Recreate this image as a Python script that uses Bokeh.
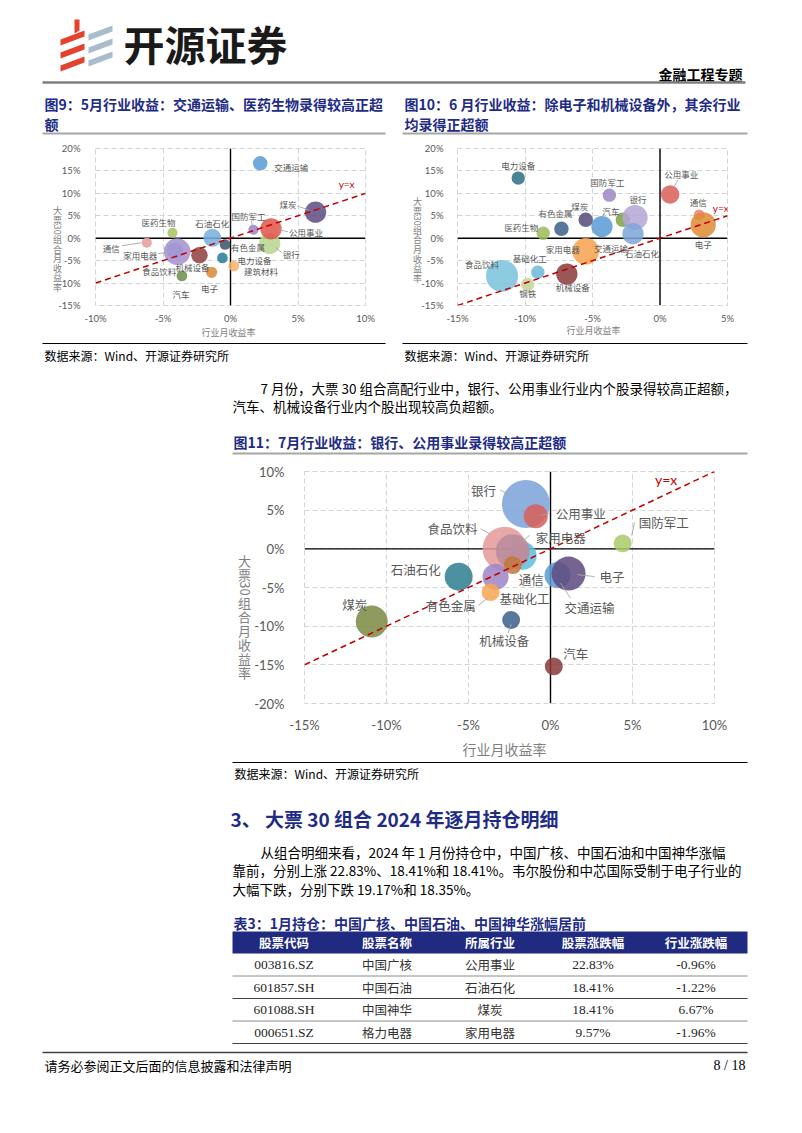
import math
from bokeh.plotting import figure
from bokeh.models import Range1d, FixedTicker, PrintfTickFormatter
from bokeh.layouts import column, row
from bokeh.core.properties import value
from bokeh.embed import file_html
from bokeh.resources import INLINE

CJK = "Noto Sans CJK SC"
LAT = "Lato"
SERIF = "Liberation Serif"
NAVY = "#1F2C85"
GRAYTXT = "#595959"

# ---------------- data ----------------
# Figure 9: May
may_industries = ["交通运输", "煤炭", "银行", "公用事业", "国防军工", "有色金属", "电力设备", "建筑材料",
                  "电子", "石油石化", "医药生物", "通信", "家用电器", "食品饮料", "机械设备", "汽车"]
may_industry_ret = [2.2, 6.3, 2.9, 3.0, 1.7, -0.4, -0.6, 0.25, -1.4, -1.35, -4.3, -6.2, -4.1, -3.95, -2.3, -3.6]
may_port_ret = [16.7, 5.8, -1.2, 2.1, 1.9, -1.4, -4.4, -6.2, -7.6, 0.1, 1.2, -1.0, -2.8, -3.0, -3.8, -8.4]
may_weight = [3.3, 7.1, 7.1, 7.1, 1.6, 1.8, 1.8, 1.8, 2.0, 5.1, 1.6, 1.6, 4.3, 11.1, 4.3, 1.8]
may_xticks = [-10, -5, 0, 5, 10]
may_yticks = [-15, -10, -5, 0, 5, 10, 15, 20]

# Figure 10: June
jun_industries = ["电力设备", "国防军工", "公用事业", "通信", "电子", "汽车", "银行", "石油石化", "煤炭",
                  "有色金属", "交通运输", "医药生物", "家用电器", "钢铁", "食品饮料", "基础化工", "机械设备"]
jun_industry_ret = [-10.5, -3.75, 0.75, 2.9, 3.2, -2.75, -1.85, -2.0, -5.5, -7.3, -4.3, -8.65, -5.5, -9.8, -11.7, -9.05, -6.9]
jun_port_ret = [13.4, 9.6, 9.75, 5.2, 3.0, 4.1, 4.6, 1.0, 4.1, 2.1, 2.6, 1.1, -2.9, -10.3, -8.4, -7.6, -8.0]
jun_weight = [2.8, 2.8, 5.4, 1.8, 10.0, 3.3, 10.0, 7.1, 3.3, 3.3, 7.1, 2.8, 11.1, 2.8, 16.0, 2.8, 7.1]
jun_xticks = [-15, -10, -5, 0, 5]
jun_yticks = [-15, -10, -5, 0, 5, 10, 15, 20]

# Figure 11: July
jul_industries = ["银行", "公用事业", "医药生物", "食品饮料", "家用电器", "通信", "基础化工", "有色金属",
                  "石油石化", "煤炭", "机械设备", "汽车", "交通运输", "电子", "国防军工"]
jul_industry_ret = [-1.5, -0.9, -1.7, -2.8, -2.3, -2.3, -3.35, -3.65, -5.6, -10.9, -2.4, 0.2, 0.43, 1.1, 4.4]
jul_port_ret = [5.8, 4.2, -0.9, 0.0, -0.3, -2.1, -3.6, -5.6, -3.6, -9.4, -9.2, -15.2, -3.4, -3.2, 0.7]
jul_weight = [23.0, 5.8, 7.8, 19.4, 11.6, 3.2, 6.8, 3.2, 7.8, 10.2, 3.2, 3.2, 6.8, 11.6, 3.2]
jul_xticks = [-15, -10, -5, 0, 5, 10]
jul_yticks = [-20, -15, -10, -5, 0, 5, 10]

# Table 3
tbl_headers = ["股票代码", "股票名称", "所属行业", "股票涨跌幅", "行业涨跌幅"]
tbl_codes = ["003816.SZ", "601857.SH", "601088.SH", "000651.SZ"]
tbl_names = ["中国广核", "中国石油", "中国神华", "格力电器"]
tbl_industries = ["公用事业", "石油石化", "煤炭", "家用电器"]
tbl_stock_ret = [22.83, 18.41, 18.41, 9.57]
tbl_industry_ret = [-0.96, -1.22, 6.67, -1.96]

# ---------------- styles ----------------
may_colors = ["#5B9BD5", "#5F4B80", "#B7D68E", "#E0554A", "#9A84C4", "#3B5470", "#2A7B96", "#F7B26B",
              "#D88A3A", "#79AEE0", "#A9C35F", "#E79C9C", "#8EB5E3", "#A592D0", "#923F3F", "#6E8E4D"]
jun_colors = ["#2E6F85", "#9D88C6", "#D9605A", "#E8837E", "#E08A35", "#7F9F45", "#B4A7D6", "#7EA6D8", "#564C7A",
              "#3E5F8A", "#5B9BD5", "#9BBB59", "#F7A350", "#C3D69B", "#79C3DD", "#6CB8D6", "#8B3A3A"]
jul_colors = ["#7BA3D8", "#D9605A", "#5BC0DE", "#E39A98", "#B88A9C", "#C0793A", "#9E85C6", "#F6A654",
              "#2F7F8F", "#7A8B45", "#3E5F8A", "#8B3A3A", "#5B9BD5", "#5E4B7F", "#A9CC6A"]

# label placement: px offset from bubble centre, alignment
may_labels = {"交通运输": (14, 4, "left"), "煤炭": (-19, -8, "right"), "银行": (13, 10, "left"),
              "公用事业": (18, 3, "left"), "国防军工": (-5, -14, "center"), "有色金属": (6, 3, "left"),
              "电力设备": (15, 2, "left"), "建筑材料": (10, 5, "left"), "电子": (-2, 16, "center"),
              "石油石化": (0, -15, "center"), "医药生物": (-14, -11, "center"), "通信": (-27, 5, "right"),
              "家用电器": (-18, 4, "right"), "食品饮料": (-18, 19, "center"), "机械设备": (-7, 12, "center"),
              "汽车": (-1, 18, "center")}
may_leaders = {"煤炭": ((-18, -6), (-6, -2)), "国防军工": ((-2, -9), (-1, -3)), "公用事业": ((17, 3), (8, 1)),
               "银行": ((12, 9), (6, 4)), "通信": ((-25, 3), (-5, 0)), "家用电器": ((-17, 3), (-5, 1))}
jun_labels = {"电力设备": (0, -13, "center"), "国防军工": (-2, -13, "center"), "公用事业": (-6, -20, "left"),
              "通信": (-1, -13, "center"), "电子": (0, 19, "center"), "石油石化": (9, 19, "center"),
              "银行": (3, -19, "center"), "汽车": (-12, -9, "center"), "煤炭": (-6, -14, "center"),
              "有色金属": (-6, -16, "center"), "交通运输": (9, 21, "center"), "医药生物": (-22, -6, "center"),
              "家用电器": (-23, -2, "center"), "钢铁": (0, 9, "center"), "食品饮料": (-20, -12, "center"),
              "基础化工": (-8, -14, "center"), "机械设备": (6, 13, "center")}
jun_leaders = {"公用事业": ((8, -15), (4, -8))}
jul_labels = {"银行": (-30, -13, "right"), "公用事业": (20, -3, "left"), "食品饮料": (-27, -20, "right"),
              "家用电器": (23, -14, "left"), "通信": (6, 14, "left"), "基础化工": (4, 22, "left"),
              "有色金属": (-15, 13, "right"), "石油石化": (-18, -7, "right"), "煤炭": (-17, -17, "center"),
              "机械设备": (-7, 21, "center"), "汽车": (22, -13, "center"), "交通运输": (32, 32, "center"),
              "电子": (31, 3, "left"), "国防军工": (16, -21, "left")}
jul_leaders = {"银行": ((-26, -14), (-16, -9)), "食品饮料": ((-24, -20), (-15, -15)),
               "公用事业": ((14, -3), (5, -1)), "家用电器": ((17, -16), (10, -10)),
               "国防军工": ((12, -21), (9, -8)), "电子": ((26, 3), (9, 1)), "交通运输": ((13, 23), (3, 8)),
               "有色金属": ((-12, 13), (-3, 6)), "机械设备": ((-3, 13), (0, 4))}


def txt(p, x, y, s, size, color="#000000", bold=False, align="left", font=CJK, **kw):
    p.text(x=[x], y=[y], text=[s], text_font=value(font), text_font_size=f"{size}px",
           text_color=color, text_align=align, text_baseline="middle",
           text_font_style="bold" if bold else "normal", **kw)


def page_fig(y0, y1):
    p = figure(width=786, height=int(y1 - y0), x_range=Range1d(8, 794), y_range=Range1d(y1, y0),
               x_axis_type=None, y_axis_type=None, output_backend="svg", toolbar_location=None,
               min_border=0)
    p.outline_line_color = None
    p.background_fill_color = "white"
    p.border_fill_color = "white"
    return p


def hline(p, x0, x1, y, color, width):
    p.segment(x0=[x0], y0=[y], x1=[x1], y1=[y], line_color=color, line_width=width)


def bubble_chart(fx0, fy0, w, h, bl, br, bt, bb, xticks, yticks, names, xs, ys, ws, colors, rk,
                 labels, leaders, lab_size, tick_size, sx, sy, xtitle, title_size,
                 yx_pos, yx_size, ytitle, ytitle_spacing, ytitle_size):
    xr = (xticks[0], xticks[-1])
    yr = (yticks[0], yticks[-1])
    p = figure(width=w, height=h, x_range=Range1d(*xr), y_range=Range1d(*yr),
               output_backend="svg", toolbar_location=None,
               min_border_left=bl, min_border_right=br, min_border_top=bt, min_border_bottom=bb)
    p.background_fill_color = "white"
    p.border_fill_color = "white"
    fw = w - bl - br
    fh = h - bt - bb
    ppx = fw / (xr[1] - xr[0])
    ppy = fh / (yr[1] - yr[0])
    fl = fx0 + bl
    ft = fy0 + bt

    def to_data(px, py):
        return xr[0] + (px - fl) / ppx, yr[1] - (py - ft) / ppy

    p.xaxis.ticker = FixedTicker(ticks=xticks)
    p.yaxis.ticker = FixedTicker(ticks=yticks)
    p.xaxis.formatter = PrintfTickFormatter(format="%d%%")
    p.yaxis.formatter = PrintfTickFormatter(format="%d%%")
    for ax in p.axis:
        ax.axis_line_color = None
        ax.major_tick_line_color = None
        ax.minor_tick_line_color = None
        ax.major_label_text_font = LAT
        ax.major_label_text_font_size = f"{tick_size}px"
        ax.major_label_text_color = GRAYTXT
    p.xaxis.major_label_standoff = sx
    p.yaxis.major_label_standoff = sy
    p.grid.grid_line_color = "#D4D4D4"
    p.grid.grid_line_dash = "5 3"
    p.grid.grid_line_width = 1
    p.outline_line_color = "#D4D4D4"
    p.outline_line_dash = "5 3"

    # zero axes
    p.segment(x0=[xr[0]], y0=[0], x1=[xr[1]], y1=[0], line_color="#000000", line_width=1.4)
    p.segment(x0=[0], y0=[yr[0]], x1=[0], y1=[yr[1]], line_color="#000000", line_width=1.4)

    sizes = [2 * rk * math.sqrt(v) for v in ws]
    p.scatter(x=xs, y=ys, size=sizes, fill_color=colors, fill_alpha=0.86, line_color=None)

    # y = x reference line
    p.line(x=[xr[0], xr[1]], y=[xr[0], xr[1]], line_color="#C00000", line_dash="6 4", line_width=1.5)
    p.text(x=[yx_pos[0]], y=[yx_pos[1]], text=["y=x"], text_font=value(LAT), text_font_size=f"{yx_size}px",
           text_color="#C00000", text_align="center", text_baseline="middle")

    # leaders and labels
    for n, x, y in zip(names, xs, ys):
        if n in leaders:
            (a, b), (c, d) = leaders[n]
            p.segment(x0=[x + a / ppx], y0=[y - b / ppy], x1=[x + c / ppx], y1=[y - d / ppy],
                      line_color="#A6A6A6", line_width=0.9)
    for n, x, y in zip(names, xs, ys):
        if n in labels:
            dx, dy, al = labels[n]
            p.text(x=[x], y=[y], text=[n], x_offset=dx, y_offset=dy, text_align=al, text_baseline="middle",
                   text_font=value(CJK), text_font_size=f"{lab_size}px", text_color=GRAYTXT)

    # x axis title (drawn outside the frame)
    ax_, ay_ = to_data(xtitle[0], xtitle[1])
    p.text(x=[ax_], y=[ay_], text=["行业月收益率"], text_align="center", text_baseline="middle",
           text_font=value(CJK), text_font_size=f"{title_size}px", text_color="#7F7F7F", level="overlay")

    # stacked vertical y title
    tx, ty = to_data(ytitle[0], ytitle[1])
    chars = ["大", "票", "30", "组", "合", "月", "收", "益", "率"]
    nch = len(chars)
    for i, ch in enumerate(chars):
        off = (i - (nch - 1) / 2) * ytitle_spacing
        ang = -math.pi / 2 if ch.isdigit() else 0
        p.text(x=[tx], y=[ty], text=[ch], y_offset=off, angle=ang, text_align="center", text_baseline="middle",
               text_font=value(CJK), text_font_size=f"{ytitle_size}px", text_color="#7F7F7F", level="overlay")
    return p


# ---------------- header ----------------
hdr = page_fig(8, 146)
red = "#E5412F"
blue = "#A8BCCB"
rx, ry = [], []
for yy in [38, 51, 64]:
    rx.append([68, 92, 92, 68])
    ry.append([yy + 9, yy, yy + 6, yy + 15])
bx, by = [], []
for yy in [33, 46, 59]:
    bx.append([96, 120, 120, 96])
    by.append([yy + 9, yy, yy + 6, yy + 15])
hdr.patches(xs=rx, ys=ry, fill_color=red, line_color=None)
hdr.patches(xs=bx, ys=by, fill_color=blue, line_color=None)
hdr.patch(x=[82, 87, 87, 82], y=[27, 27, 38, 41], fill_color=red, line_color=None)
txt(hdr, 131, 50, "开源证券", 41, "#1A1A1A", bold=True)
txt(hdr, 750, 81, "金融工程专题", 14, "#000000", bold=True, align="right")
hline(hdr, 50, 753, 90, "#7F7F7F", 2.5)
txt(hdr, 52, 111, "图9：5月行业收益：交通运输、医药生物录得较高正超", 14, NAVY, bold=True)
txt(hdr, 52, 131, "额", 14, NAVY, bold=True)
txt(hdr, 412, 111, "图10：6 月行业收益：除电子和机械设备外，其余行业", 14, NAVY, bold=True)
txt(hdr, 412, 131, "均录得正超额", 14, NAVY, bold=True)
hline(hdr, 50, 393, 141, "#A6A6A6", 2)
hline(hdr, 410, 755, 141, "#A6A6A6", 2)

# ---------------- charts 9 and 10 ----------------
f9 = bubble_chart(8, 146, 392, 200, 95, 27, 10, 33, may_xticks, may_yticks, may_industries, may_industry_ret,
                  may_port_ret, may_weight, may_colors, 4.0, may_labels, may_leaders, 8.5, 9.5, 1, 9,
                  (236, 340), 9, (8.6, 12.1), 10, (65, 256.5), 9.6, 9)
f10 = bubble_chart(400, 146, 394, 200, 65, 59, 10, 31, jun_xticks, jun_yticks, jun_industries, jun_industry_ret,
                   jun_port_ret, jun_weight, jun_colors, 4.0, jun_labels, jun_leaders, 8.5, 9.5, 1, 8,
                   (601, 340), 9, (4.5, 6.8), 10, (425, 248.5), 9.6, 9)

# ---------------- middle text ----------------
mid = page_fig(346, 466)
hline(mid, 50, 393, 351, "#000000", 1)
hline(mid, 410, 755, 351, "#000000", 1)
txt(mid, 52, 363, "数据来源：Wind、开源证券研究所", 12)
txt(mid, 412, 363, "数据来源：Wind、开源证券研究所", 12)
txt(mid, 268, 395, "7 月份，大票 30 组合高配行业中，银行、公用事业行业内个股录得较高正超额，", 13.5)
txt(mid, 240, 413, "汽车、机械设备行业内个股出现较高负超额。", 13.5)
txt(mid, 241, 449, "图11：7月行业收益：银行、公用事业录得较高正超额", 14, NAVY, bold=True)
hline(mid, 240, 755, 461, "#A6A6A6", 2)

# ---------------- chart 11 ----------------
f11 = bubble_chart(8, 466, 786, 302, 304, 72, 13, 57, jul_xticks, jul_yticks, jul_industries, jul_industry_ret,
                   jul_port_ret, jul_weight, jul_colors, 5.0, jul_labels, jul_leaders, 12.5, 13, 7, 14,
                   (512, 756), 14, (7.05, 8.96), 14, (252, 624), 14, 13)

# ---------------- bottom: section, paragraph, table, footer ----------------
bot = page_fig(768, 1125)
hline(bot, 240, 755, 770, "#000000", 1)
txt(bot, 242, 781, "数据来源：Wind、开源证券研究所", 12)
txt(bot, 238, 826, "3、 大票 30 组合 2024 年逐月持仓明细", 19, NAVY, bold=True)
txt(bot, 268, 859, "从组合明细来看，2024 年 1 月份持仓中，中国广核、中国石油和中国神华涨幅", 13.5)
txt(bot, 240, 877, "靠前，分别上涨 22.83%、18.41%和 18.41%。韦尔股份和中芯国际受制于电子行业的", 13.5)
txt(bot, 240, 896, "大幅下跌，分别下跌 19.17%和 18.35%。", 13.5)
txt(bot, 241, 930, "表3：1月持仓：中国广核、中国石油、中国神华涨幅居前", 14, NAVY, bold=True)

t_left, t_right = 240, 755
t_top, hdr_h, row_h = 939, 22, 22.5
bot.quad(left=[t_left], right=[t_right], top=[t_top], bottom=[t_top + hdr_h], fill_color="#1F2A80", line_color=None)
ncol = len(tbl_headers)
colw = (t_right - t_left) / ncol
centers = [t_left + colw * (i + 0.5) for i in range(ncol)]
for c, hname in zip(centers, tbl_headers):
    txt(bot, c, t_top + hdr_h / 2, hname, 12.5, "#FFFFFF", bold=True, align="center")
for i in range(len(tbl_codes)):
    yc = t_top + hdr_h + row_h * (i + 0.5)
    txt(bot, centers[0], yc, tbl_codes[i], 13.5, "#262626", align="center", font=SERIF)
    txt(bot, centers[1], yc, tbl_names[i], 12.5, "#333333", align="center")
    txt(bot, centers[2], yc, tbl_industries[i], 12.5, "#333333", align="center")
    txt(bot, centers[3], yc, f"{tbl_stock_ret[i]:.2f}%", 13.5, "#262626", align="center", font=SERIF)
    txt(bot, centers[4], yc, f"{tbl_industry_ret[i]:.2f}%", 13.5, "#262626", align="center", font=SERIF)
    yl = t_top + hdr_h + row_h * (i + 1)
    last = i == len(tbl_codes) - 1
    hline(bot, t_left, t_right, yl, "#404040" if (last or i == 1) else "#8C8C8C", 1.2 if (last or i == 1) else 1)

hline(bot, 50, 755, 1060, "#404040", 1.5)
txt(bot, 52, 1073, "请务必参阅正文后面的信息披露和法律声明", 13)
txt(bot, 753, 1073, "8 / 18", 14, align="right", font=SERIF)

page = column(hdr, row(f9, f10, spacing=0), mid, row(f11, spacing=0), bot, spacing=0)
open("out.html", "w").write(file_html(page, INLINE))
